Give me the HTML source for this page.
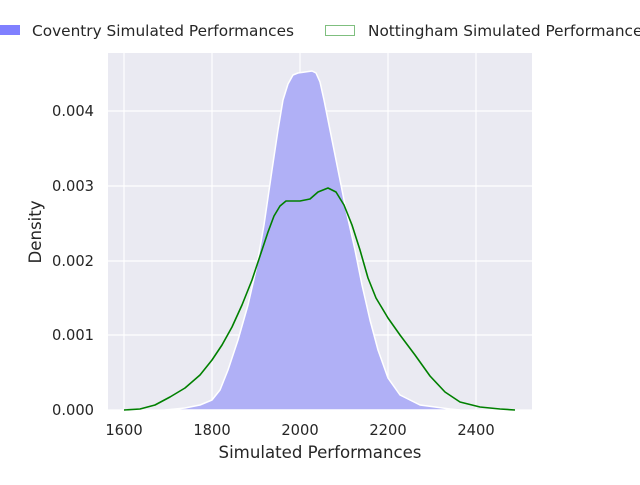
<!DOCTYPE html>
<html><head><style>body{margin:0;background:#fff}</style></head><body>
<svg width="640" height="480" xmlns="http://www.w3.org/2000/svg" font-family="DejaVu Sans, sans-serif" fill="#262626">
<rect x="108" y="53" width="424" height="357" fill="#eaeaf2"/>
<g stroke="#fff" stroke-width="1.2">
<line x1="124" y1="53" x2="124" y2="410"/><line x1="212" y1="53" x2="212" y2="410"/><line x1="300" y1="53" x2="300" y2="410"/><line x1="388" y1="53" x2="388" y2="410"/><line x1="476" y1="53" x2="476" y2="410"/>
<line x1="108" y1="410" x2="532" y2="410"/><line x1="108" y1="335" x2="532" y2="335"/><line x1="108" y1="261" x2="532" y2="261"/><line x1="108" y1="186" x2="532" y2="186"/><line x1="108" y1="111" x2="532" y2="111"/>
</g>
<path d="M165,410 L185,408 200,405 212,400 220,390 228,370 238,340 248,305 256,270 264,225 272,170 278,130 283,100 288,84 293,75 298,73 305,72 312,71 316,73 320,82 324,100 330,130 338,170 346,210 355,250 362,285 370,320 378,350 388,378 400,395 420,405 450,409 460,410 Z" fill="#b0b0f6" stroke="#fff" stroke-width="1.5" stroke-linejoin="round"/>
<path d="M124,410 L140,409 155,405 170,397 185,388 200,375 212,360 222,345 232,327 242,305 252,280 262,250 268,232 274,216 280,206 286,201 300,201 310,199 318,192 328,188 336,192 344,205 352,225 360,250 368,278 376,298 388,318 400,335 415,355 430,376 445,392 460,402 480,407 500,409 515,410" fill="none" stroke="#008000" stroke-width="1.6" stroke-linejoin="round"/>
<g font-size="14.67" text-anchor="end">
<text x="94" y="415">0.000</text><text x="94" y="340">0.001</text><text x="94" y="266">0.002</text><text x="94" y="191">0.003</text><text x="94" y="116">0.004</text>
</g>
<g font-size="14.67" text-anchor="middle">
<text x="124" y="435">1600</text><text x="212" y="435">1800</text><text x="300" y="435">2000</text><text x="388" y="435">2200</text><text x="476" y="435">2400</text>
<text x="320" y="458" font-size="16.6">Simulated Performances</text>
<text transform="translate(41,232) rotate(-90)" font-size="16.6">Density</text>
</g>
<rect x="0" y="25" width="20" height="10" fill="#8080ff"/>
<text x="32" y="36" font-size="15.3" textLength="262" lengthAdjust="spacingAndGlyphs">Coventry Simulated Performances</text>
<rect x="325.5" y="25.5" width="29" height="10" fill="#fff" stroke="#7fbf7f"/>
<text x="368" y="36" font-size="15.3">Nottingham Simulated Performances</text>
</svg>
</body></html>
